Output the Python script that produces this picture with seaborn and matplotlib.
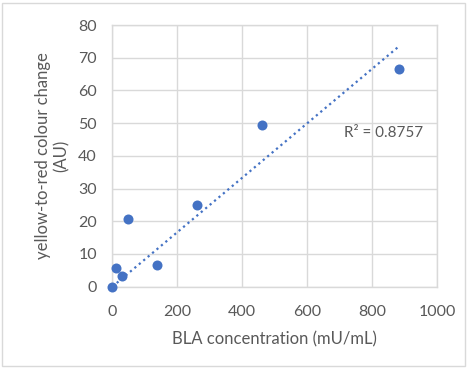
import matplotlib
matplotlib.use("Agg")
import matplotlib.pyplot as plt
import seaborn as sns
import numpy as np
import pandas as pd
from matplotlib.patches import Rectangle

bla_conc = [0, 12, 30, 47, 137, 262, 462, 884]
colour_change = [0, 5.8, 3.4, 20.8, 6.5, 24.9, 49.5, 66.7]
x_ticks = [0, 200, 400, 600, 800, 1000]
y_ticks = [0, 10, 20, 30, 40, 50, 60, 70, 80]
r2_label = "R² = 0.8757"

df = pd.DataFrame({"x": bla_conc, "y": colour_change})

# linear trendline with intercept set to 0 (as in the source chart)
xa = np.array(bla_conc, dtype=float)
ya = np.array(colour_change, dtype=float)
slope = (xa * ya).sum() / (xa * xa).sum()
trend = pd.DataFrame({"x": [xa.min(), xa.max()]})
trend["y"] = slope * trend["x"]

sns.set_theme(style="white")
plt.rcParams['font.family'] = ['Lato', 'DejaVu Sans']

grey = "#595959"
blue = "#4472C4"
gridc = "#D9D9D9"

fig = plt.figure(figsize=(4.68, 3.68), dpi=100)
ax = fig.add_axes([0.240, 0.221, 0.694, 0.711])

sns.lineplot(data=trend, x="x", y="y", ax=ax, color=blue,
             linestyle=(0, (1, 1.6)), linewidth=1.6)
sns.scatterplot(data=df, x="x", y="y", ax=ax, color=blue, s=52,
                edgecolor=blue, linewidth=0, zorder=5, clip_on=False)

ax.set_xlim(0, 1000)
ax.set_ylim(0, 80)
ax.set_xticks(x_ticks)
ax.set_yticks(y_ticks)
ax.grid(True, color=gridc, linewidth=1)
ax.set_axisbelow(True)
for s in ax.spines.values():
    s.set_color(gridc)
    s.set_linewidth(1)
ax.tick_params(axis="x", colors=grey, labelsize=11.5, length=0, pad=13)
ax.tick_params(axis="y", colors=grey, labelsize=11.5, length=0, pad=11)
ax.set_xlabel("BLA concentration (mU/mL)", color=grey, fontsize=12, labelpad=9)
ax.set_ylabel("yellow-to-red colour change\n(AU)", color=grey, fontsize=12, labelpad=6)

ax.text(713, 47, r2_label, color=grey, fontsize=11, va="center", ha="left")

fig.patches.append(Rectangle((0.004, 0.005), 0.99, 0.988, transform=fig.transFigure,
                             fill=False, edgecolor=gridc, linewidth=1))

fig.savefig("out.png", dpi=100)
